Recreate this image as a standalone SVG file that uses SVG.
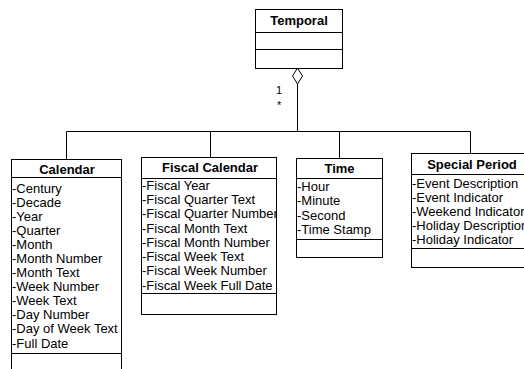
<svg xmlns="http://www.w3.org/2000/svg" width="524" height="369" viewBox="0 0 524 369">
<style>
.box{fill:#fff;stroke:#000;stroke-width:1}
.ln{stroke:#000;stroke-width:1;fill:none}
.hd{font-family:"Liberation Sans",Arial,sans-serif;font-size:13px;font-weight:bold;text-anchor:middle;fill:#000}
.at{font-family:"Liberation Sans",Arial,sans-serif;font-size:13px;fill:#000}
.ml{font-family:"Liberation Sans",Arial,sans-serif;font-size:11px;fill:#000}
</style>
<defs>
<clipPath id="cf"><rect x="142" y="157" width="134.5" height="157"/></clipPath>
<clipPath id="cc"><rect x="11" y="159" width="110" height="215"/></clipPath>
</defs>
<rect width="524" height="369" fill="#fff"/>
<g id="connectors">
<path class="ln" d="M297.5 84 V131.5 M66.5 131.5 H470.5 M66.5 131.5 V159 M210.5 131.5 V157 M339.5 131.5 V158 M470.5 131.5 V153"/>
<path class="box" d="M297.5 68 L302.5 76 L297.5 84 L292.5 76 Z"/>
<text class="ml" x="276" y="94">1</text>
<text class="ml" x="277" y="109">*</text>
</g>
<g id="temporal">
<rect class="box" x="255.5" y="9.5" width="87" height="59"/>
<path class="ln" d="M255.5 32.5 H342.5 M255.5 49.5 H342.5"/>
<text class="hd" x="299" y="25">Temporal</text>
</g>
<g id="calendar">
<rect class="box" x="11.5" y="159.5" width="110" height="220"/>
<path class="ln" d="M11.5 177.5 H121.5 M11.5 353.5 H121.5"/>
<text class="hd" x="67" y="174">Calendar</text>
<g class="at" clip-path="url(#cc)">
<text x="12" y="193">-Century</text>
<text x="12" y="207">-Decade</text>
<text x="12" y="221">-Year</text>
<text x="12" y="235">-Quarter</text>
<text x="12" y="249">-Month</text>
<text x="12" y="263">-Month Number</text>
<text x="12" y="277">-Month Text</text>
<text x="12" y="291">-Week Number</text>
<text x="12" y="305">-Week Text</text>
<text x="12" y="319">-Day Number</text>
<text x="12" y="333">-Day of Week Text</text>
<text x="12" y="348">-Full Date</text>
</g>
</g>
<g id="fiscal-calendar">
<rect class="box" x="141.5" y="157.5" width="135" height="157"/>
<path class="ln" d="M141.5 178.5 H276.5 M141.5 293.5 H276.5"/>
<text class="hd" x="210" y="172">Fiscal Calendar</text>
<g class="at" clip-path="url(#cf)">
<text x="142" y="190">-Fiscal Year</text>
<text x="142" y="204">-Fiscal Quarter Text</text>
<text x="142" y="218">-Fiscal Quarter Number</text>
<text x="142" y="233">-Fiscal Month Text</text>
<text x="142" y="247">-Fiscal Month Number</text>
<text x="142" y="261">-Fiscal Week Text</text>
<text x="142" y="275">-Fiscal Week Number</text>
<text x="142" y="290">-Fiscal Week Full Date</text>
</g>
</g>
<g id="time">
<rect class="box" x="296.5" y="158.5" width="86" height="99"/>
<path class="ln" d="M296.5 178.5 H382.5 M296.5 239.5 H382.5"/>
<text class="hd" x="339.5" y="173">Time</text>
<g class="at">
<text x="297" y="191">-Hour</text>
<text x="297" y="205">-Minute</text>
<text x="297" y="220">-Second</text>
<text x="297" y="234">-Time Stamp</text>
</g>
</g>
<g id="special-period">
<rect class="box" x="411.5" y="153.5" width="121" height="114"/>
<path class="ln" d="M411.5 174.5 H532.5 M411.5 248.5 H532.5"/>
<text class="hd" x="472" y="169">Special Period</text>
<g class="at">
<text x="412" y="188">-Event Description</text>
<text x="412" y="202">-Event Indicator</text>
<text x="412" y="216">-Weekend Indicator</text>
<text x="412" y="230">-Holiday Description</text>
<text x="412" y="244">-Holiday Indicator</text>
</g>
</g>
</svg>
